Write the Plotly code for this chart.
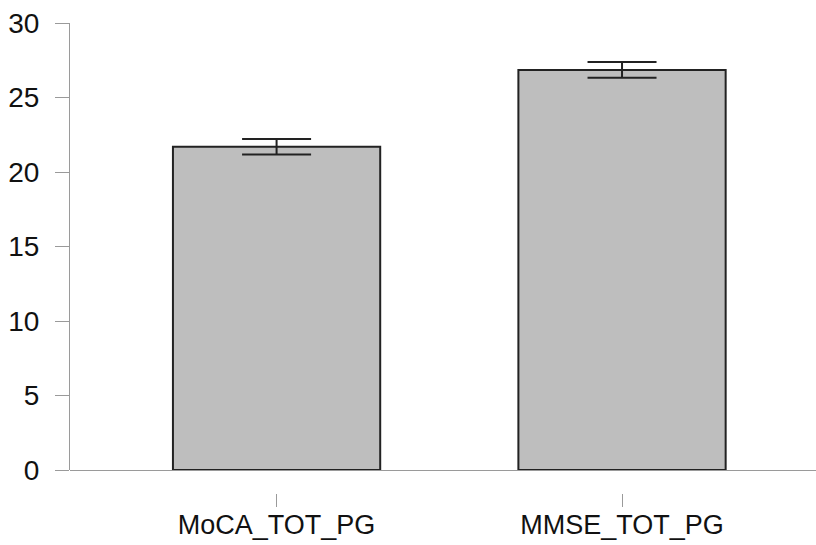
import plotly.graph_objects as go

# Mean cognitive scores with standard error
categories = ["MoCA_TOT_PG", "MMSE_TOT_PG"]
means = [21.7, 26.85]
errors = [0.52, 0.53]
y_ticks = [0, 5, 10, 15, 20, 25, 30]

FONT = "Liberation Sans, Arial, Helvetica, sans-serif"
AXIS_GREY = "#9a9a9a"

fig = go.Figure(
    go.Bar(
        x=categories,
        y=means,
        width=0.6,
        marker=dict(color="#bebebe", line=dict(color="#222222", width=2)),
        error_y=dict(
            type="data",
            array=errors,
            visible=True,
            color="#222222",
            thickness=2,
            width=34.5,
        ),
        showlegend=False,
    )
)

fig.update_layout(
    width=816,
    height=545,
    margin=dict(l=70, r=0, t=23, b=52),
    paper_bgcolor="white",
    plot_bgcolor="white",
    font=dict(family=FONT, size=28, color="#111111"),
    xaxis=dict(
        type="category",
        range=[-0.598, 1.5615],
        anchor="free",
        position=0,
        showline=False,
        showgrid=False,
        zeroline=False,
        ticks="outside",
        ticklen=13,
        tickwidth=1,
        tickcolor=AXIS_GREY,
        ticklabelstandoff=-5,
        tickfont=dict(family=FONT, size=27, color="#111111"),
        automargin=False,
    ),
    yaxis=dict(
        domain=[0.0489, 1],
        range=[0, 30],
        tickvals=y_ticks,
        showline=True,
        linecolor=AXIS_GREY,
        linewidth=1,
        showgrid=False,
        zeroline=True,
        zerolinecolor=AXIS_GREY,
        zerolinewidth=1,
        ticks="outside",
        ticklen=14,
        tickwidth=1,
        tickcolor=AXIS_GREY,
        ticklabelstandoff=10,
        tickfont=dict(family=FONT, size=28, color="#111111"),
        automargin=False,
    ),
)

fig.write_html("out.html")
